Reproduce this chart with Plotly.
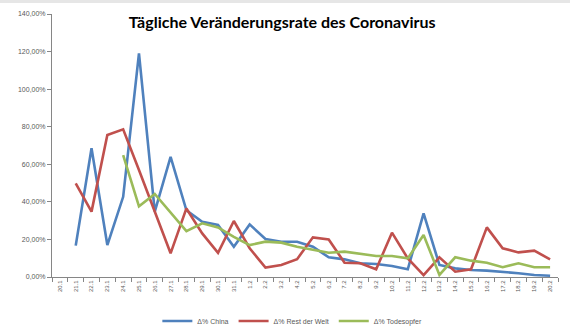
import plotly.graph_objects as go

dates = ["20.1", "21.1", "22.1", "23.1", "24.1", "25.1", "26.1", "27.1", "28.1", "29.1",
         "30.1", "31.1", "1.2", "2.2", "3.2", "4.2", "5.2", "6.2", "7.2", "8.2",
         "9.2", "10.2", "11.2", "12.2", "13.2", "14.2", "15.2", "16.2", "17.2", "18.2",
         "19.2", "20.2"]

china = [None, 16.7, 68.5, 17.0, 42.7, 119.0, 34.8, 64.0, 35.5, 29.4, 27.7, 16.1, 28.0,
         20.2, 18.8, 18.8, 16.1, 10.5, 9.4, 7.3, 6.9, 5.9, 4.1, 33.9, 6.4, 4.6, 3.7,
         3.4, 2.8, 2.0, 1.1, 0.7]
rest = [None, 49.9, 34.8, 75.6, 78.6, 57.0, 35.0, 12.6, 36.5, 23.2, 12.9, 29.8, 15.3,
        5.0, 6.4, 9.5, 21.1, 20.0, 7.6, 7.3, 4.1, 23.6, 9.9, 1.0, 10.5, 2.8, 4.1,
        26.4, 15.3, 13.1, 14.0, 9.4]
deaths = [None, None, None, None, 64.9, 37.6, 44.2, 34.0, 24.4, 28.6, 26.4, 21.4, 17.0,
          18.8, 18.3, 16.1, 14.4, 12.9, 13.5, 12.2, 11.2, 11.2, 9.9, 22.4, 1.1, 10.5,
          8.7, 7.6, 5.2, 7.3, 5.2, 5.2]

names = ["Δ% China", "Δ% Rest der Welt", "Δ% Todesopfer"]
colors = ["#4F81BD", "#C0504D", "#9BBB59"]
yticks = [0, 20, 40, 60, 80, 100, 120, 140]

fig = go.Figure()
for name, vals, col in zip(names, [china, rest, deaths], colors):
    fig.add_trace(go.Scatter(
        x=dates, y=[None if v is None else v / 100 for v in vals],
        mode="lines", name=name,
        line=dict(color=col, width=2.6),
    ))

fig.update_layout(
    width=570, height=336,
    margin=dict(l=52, r=12, t=14, b=59, autoexpand=False),
    paper_bgcolor="white", plot_bgcolor="white",
    separators=",.",
    title=dict(text="<b>Tägliche Veränderungsrate des Coronavirus</b>",
               font=dict(family="Lato", size=16, color="#000000"),
               x=0.495, xanchor="center", yref="container", y=1 - 22 / 336, yanchor="middle"),
    showlegend=True,
    legend=dict(orientation="h", x=0.475, xanchor="center",
                yref="container", y=(336 - 321) / 336, yanchor="middle",
                font=dict(family="Liberation Sans", size=7, color="#595959"),
                itemwidth=30, tracegroupgap=0, bgcolor="rgba(0,0,0,0)"),
    font=dict(family="Liberation Sans", size=7, color="#595959"),
)

fig.update_xaxes(
    type="category", range=[-0.5, 31.5], automargin=False,
    showline=True, linecolor="#868686", linewidth=1,
    ticks="outside", tickson="boundaries", ticklen=4, tickcolor="#868686",
    tickangle=-90, tickfont=dict(size=6, color="#595959"),
    showgrid=False, zeroline=False,
)
fig.update_yaxes(
    range=[0, 1.4], tickvals=[v / 100 for v in yticks], tickformat=".2%",
    automargin=False,
    showline=True, linecolor="#868686", linewidth=1,
    ticks="outside", ticklen=4, tickcolor="#868686",
    tickfont=dict(size=7, color="#595959"),
    showgrid=False, zeroline=False,
)

fig.add_shape(type="rect", xref="paper", yref="paper",
              x0=-0.2, x1=1.1, y0=1 + 11 / 263, y1=1 + 14 / 263,
              line=dict(width=0), fillcolor="#E6E6E6", layer="below")

fig.write_html("out.html")
